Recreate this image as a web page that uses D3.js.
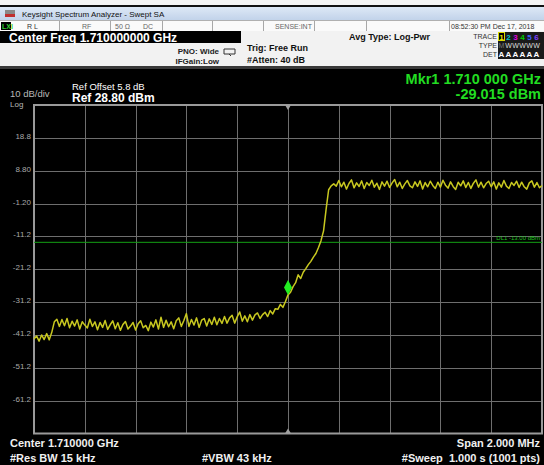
<!DOCTYPE html>
<html><head><meta charset="utf-8">
<script src="https://cdn.jsdelivr.net/npm/d3@7"></script>
<style>
html,body{margin:0;padding:0;background:#000;}
svg{display:block;font-family:"Liberation Sans",Arial,sans-serif;}
</style></head>
<body>
<svg id="c" width="544" height="465"></svg>
<script>
// ---- data ----
const freqStartMHz = 1709, freqStopMHz = 1711;
const refLevel = 28.8, dbPerDiv = 10, divisions = 10;
const yTickLabels = ["18.8","8.80","-1.20","-11.2","-21.2","-31.2","-41.2","-51.2","-61.2"];
const yTickValues = [18.8,8.8,-1.2,-11.2,-21.2,-31.2,-41.2,-51.2,-61.2];
const displayLine = -13.0;
const markerFreqMHz = 1710.0, markerValue = -29.015;
const traceValues = [
-42.4,-41.5,-43.1,-41.2,-42.6,-40.8,-42.7,-40.4,-37.2,-36.4,
-38.6,-36.5,-38.4,-36.2,-39.0,-37.0,-38.5,-36.6,-39.4,-37.2,
-38.2,-39.1,-36.4,-38.6,-37.2,-39.6,-37.4,-38.9,-36.8,-39.5,
-38.1,-36.9,-39.3,-37.5,-39.8,-38.0,-37.1,-39.4,-38.5,-37.4,
-39.7,-37.8,-36.9,-39.0,-38.3,-39.9,-37.3,-38.8,-36.6,-39.4,
-35.8,-38.9,-36.7,-38.7,-37.2,-39.3,-36.9,-36.0,-38.6,-36.8,
-34.7,-38.6,-36.5,-38.2,-36.0,-38.9,-36.7,-36.2,-38.5,-36.3,
-38.0,-35.8,-38.1,-36.2,-37.7,-35.6,-37.6,-36.0,-35.2,-37.6,
-35.7,-34.2,-37.0,-35.4,-37.2,-35.0,-36.7,-35.1,-34.5,-36.2,
-35.0,-34.3,-35.6,-33.8,-34.8,-33.2,-33.4,-31.9,-32.8,-31.0,
-29.0,-28.2,-26.5,-25.3,-22.9,-24.0,-22.1,-21.0,-19.8,-18.8,
-17.5,-16.4,-14.6,-12.5,-9.5,-3.0,3.0,4.2,4.8,4.1,
5.8,3.9,5.3,3.2,4.9,6.0,3.6,5.1,4.0,5.7,
3.4,5.2,4.3,5.9,3.8,5.0,3.1,5.4,4.1,5.6,
3.7,5.1,6.1,3.9,5.3,3.4,4.8,5.8,4.2,3.6,
5.4,4.0,5.7,3.2,5.2,3.9,5.6,4.3,3.4,5.3,
3.8,5.9,4.4,3.5,5.4,4.0,3.1,5.3,4.2,5.7,
3.7,5.2,3.4,5.0,6.0,3.8,5.3,3.6,4.9,5.6,
3.9,5.4,3.2,5.1,3.8,5.8,4.1,3.4,5.2,4.3,
5.6,3.7,5.3,3.9,3.2,5.1,5.7,3.8,5.2,3.6,
4.3];
const traceNums = ["1","2","3","4","5","6"];
const traceNumColors = ["#e8e800","#00c8c8","#e000e0","#00d000","#4060ff","#8040ff"];

// ---- drawing ----
const svg = d3.select("#c");
const L = 34, R = 542, T = 105, B = 433.5;
const x = d3.scaleLinear().domain([freqStartMHz, freqStopMHz]).range([L, R]);
const y = d3.scaleLinear().domain([refLevel - dbPerDiv*divisions, refLevel]).range([B, T]);

svg.append("rect").attr("width",544).attr("height",465).attr("fill","#000");

// header
const hdr = svg.append("g");
hdr.append("rect").attr("x",0).attr("y",0).attr("width",544).attr("height",5).attr("fill","#f4f4f4");
hdr.append("rect").attr("x",0).attr("y",5).attr("width",544).attr("height",2).attr("fill","#111");
const grad = svg.append("defs").append("linearGradient").attr("id","tb").attr("x1",0).attr("y1",0).attr("x2",0).attr("y2",1);
grad.append("stop").attr("offset","0").attr("stop-color","#dde8f6");
grad.append("stop").attr("offset","1").attr("stop-color","#c2d3ea");
hdr.append("rect").attr("x",0).attr("y",7).attr("width",544).attr("height",13).attr("fill","url(#tb)");
hdr.append("rect").attr("x",5).attr("y",10).attr("width",10).attr("height",7).attr("fill","#8a8a8a");
hdr.append("rect").attr("x",5).attr("y",14).attr("width",10).attr("height",3).attr("fill","#c03030");
hdr.append("text").attr("x",22).attr("y",17).attr("font-size",8).attr("fill","#111").text("Keysight Spectrum Analyzer - Swept SA");
// status row
hdr.append("rect").attr("x",0).attr("y",20).attr("width",544).attr("height",11).attr("fill","#fafafa");
hdr.append("rect").attr("x",0).attr("y",20).attr("width",544).attr("height",1).attr("fill","#b0b0b0");
hdr.append("rect").attr("x",1).attr("y",22).attr("width",10).attr("height",8).attr("fill","#000");
hdr.append("text").attr("x",2).attr("y",29).attr("font-size",7).attr("font-weight","bold").attr("fill","#30d030").text("LXI");
const seps = [59,110,162,212,263,314,366,449];
seps.forEach(s=>hdr.append("rect").attr("x",s).attr("y",21).attr("width",1).attr("height",10).attr("fill","#a8a8a8"));
const st = (tx,xx,anchor,col)=>hdr.append("text").attr("x",xx).attr("y",29).attr("font-size",7).attr("fill",col||"#666").attr("text-anchor",anchor||"start").text(tx);
st("R L",27,"start","#333"); st("RF",82); st("50 Ω",115); st("DC",143); st("SENSE:INT",275);
st("08:52:30 PM Dec 17, 2018",451,"start","#333");
// control rows
hdr.append("rect").attr("x",0).attr("y",31).attr("width",544).attr("height",36).attr("fill","#f2f2f2");
hdr.append("rect").attr("x",0).attr("y",31).attr("width",241).attr("height",12).attr("fill","#000");
hdr.append("text").attr("x",9).attr("y",42).attr("font-size",12).attr("font-weight","bold").attr("fill","#fff").text("Center Freq 1.710000000 GHz");
hdr.append("text").attr("x",219).attr("y",54).attr("font-size",8).attr("font-weight","bold").attr("fill","#222").attr("text-anchor","end").text("PNO: Wide");
hdr.append("text").attr("x",219).attr("y",64).attr("font-size",8).attr("font-weight","bold").attr("fill","#222").attr("text-anchor","end").text("IFGain:Low");
hdr.append("path").attr("d","M224,49 h11 v5 h-11 z M229,54 l2,2").attr("fill","none").attr("stroke","#333").attr("stroke-width",1);
hdr.append("text").attr("x",247).attr("y",51).attr("font-size",9).attr("font-weight","bold").attr("fill","#111").text("Trig: Free Run");
hdr.append("text").attr("x",247).attr("y",63).attr("font-size",9).attr("font-weight","bold").attr("fill","#111").text("#Atten: 40 dB");
hdr.append("text").attr("x",349).attr("y",40).attr("font-size",9).attr("font-weight","bold").attr("fill","#111").text("Avg Type: Log-Pwr");
hdr.append("text").attr("x",497).attr("y",39).attr("font-size",7).attr("fill","#333").attr("text-anchor","end").text("TRACE");
hdr.append("text").attr("x",497).attr("y",48).attr("font-size",7).attr("fill","#333").attr("text-anchor","end").text("TYPE");
hdr.append("text").attr("x",497).attr("y",57).attr("font-size",7).attr("fill","#333").attr("text-anchor","end").text("DET");
hdr.append("rect").attr("x",498).attr("y",32).attr("width",46).attr("height",27).attr("fill","#1a1a1a");
hdr.append("rect").attr("x",498.5).attr("y",32.5).attr("width",6).attr("height",8).attr("fill","#000").attr("stroke","#d8d800");
traceNums.forEach((n,i)=>{
  hdr.append("text").attr("x",501.5+i*7).attr("y",39.5).attr("font-size",8).attr("font-weight","bold").attr("text-anchor","middle").attr("fill",traceNumColors[i]).text(n);
  hdr.append("text").attr("x",501.5+i*7).attr("y",48).attr("font-size",7).attr("text-anchor","middle").attr("fill",i===0?"#777":"#ddd").text(i===0?"M":"W");
  hdr.append("text").attr("x",501.5+i*7).attr("y",57).attr("font-size",8).attr("font-weight","bold").attr("text-anchor","middle").attr("fill","#fff").text("A");
});
hdr.append("rect").attr("x",0).attr("y",66).attr("width",544).attr("height",3).attr("fill","#3a3a3a");

// labels above plot
svg.append("text").attr("x",10).attr("y",97).attr("font-size",9.5).attr("fill","#b8b8b8").text("10 dB/div");
svg.append("text").attr("x",10).attr("y",107).attr("font-size",8).attr("fill","#b8b8b8").text("Log");
svg.append("text").attr("x",72).attr("y",90).attr("font-size",9.5).attr("fill","#fff").text("Ref Offset 5.8 dB");
svg.append("text").attr("x",72).attr("y",102).attr("font-size",12).attr("font-weight","bold").attr("fill","#fff").text("Ref 28.80 dBm");
svg.append("text").attr("x",541).attr("y",84).attr("font-size",14.5).attr("font-weight","bold").attr("fill","#22dd22").attr("text-anchor","end").text("Mkr1 1.710 000 GHz");
svg.append("text").attr("x",541).attr("y",99).attr("font-size",14.5).attr("font-weight","bold").attr("fill","#22dd22").attr("text-anchor","end").text(markerValue.toFixed(3)+" dBm");

// grid
const g = svg.append("g");
const xTicks = d3.range(divisions+1).map(i=>freqStartMHz + i*(freqStopMHz-freqStartMHz)/divisions);
g.selectAll(".vx").data(xTicks.slice(1,-1)).join("line")
  .attr("x1",d=>Math.round(x(d))+0.5).attr("x2",d=>Math.round(x(d))+0.5).attr("y1",T).attr("y2",B)
  .attr("stroke","#6e6e6e").attr("stroke-width",1);
g.selectAll(".hy").data(yTickValues).join("line")
  .attr("y1",d=>Math.round(y(d))+0.5).attr("y2",d=>Math.round(y(d))+0.5).attr("x1",L).attr("x2",R)
  .attr("stroke","#6e6e6e").attr("stroke-width",1);
g.selectAll(".yl").data(yTickValues).join("text")
  .attr("x",31).attr("y",d=>y(d)+1).attr("font-size",8).attr("fill","#a8a8a8").attr("text-anchor","end")
  .text((d,i)=>yTickLabels[i]);
g.append("rect").attr("x",L).attr("y",T).attr("width",R-L).attr("height",B-T)
  .attr("fill","none").attr("stroke","#9a9a9a").attr("stroke-width",2);

// display line
svg.append("line").attr("x1",L).attr("x2",R).attr("y1",y(displayLine)).attr("y2",y(displayLine))
  .attr("stroke","#14a014").attr("stroke-width",1);
svg.append("text").attr("x",540).attr("y",y(displayLine)-2).attr("font-size",6).attr("fill","#20c020").attr("text-anchor","end").text("DL1 -13.00 dBm");

// trace
const n = traceValues.length;
const fAt = i => freqStartMHz + i*(freqStopMHz-freqStartMHz)/(n-1);
svg.append("path").datum(traceValues)
  .attr("d", d3.line().x((d,i)=>x(fAt(i))).y(d=>y(d)))
  .attr("fill","none").attr("stroke","#c8c820").attr("stroke-width",1.5).attr("stroke-linejoin","round");

// marker
const mx = x(markerFreqMHz), my = y(markerValue);
svg.append("path").attr("d",`M${mx},${my} l-4,-7.5 l4,-7.5 l4,7.5 z`).attr("fill","#22ee22");
svg.append("path").attr("d",`M${mx-3},${T} h6 l-3,5 z`).attr("fill","#a0a0a0");
svg.append("path").attr("d",`M${mx-3},${B} h6 l-3,-5 z`).attr("fill","#a0a0a0");

// footer
const ft = (tx,xx,yy,anchor)=>svg.append("text").attr("x",xx).attr("y",yy).attr("font-size",11).attr("font-weight","bold").attr("fill","#f0f0f0").attr("text-anchor",anchor||"start").text(tx);
ft("Center 1.710000 GHz",10,447);
ft("#Res BW 15 kHz",10,462);
ft("#VBW 43 kHz",202,462);
ft("Span 2.000 MHz",540,447,"end");
ft("#Sweep  1.000 s (1001 pts)",540,462,"end").attr("xml:space","preserve");
</script>
</body></html>
